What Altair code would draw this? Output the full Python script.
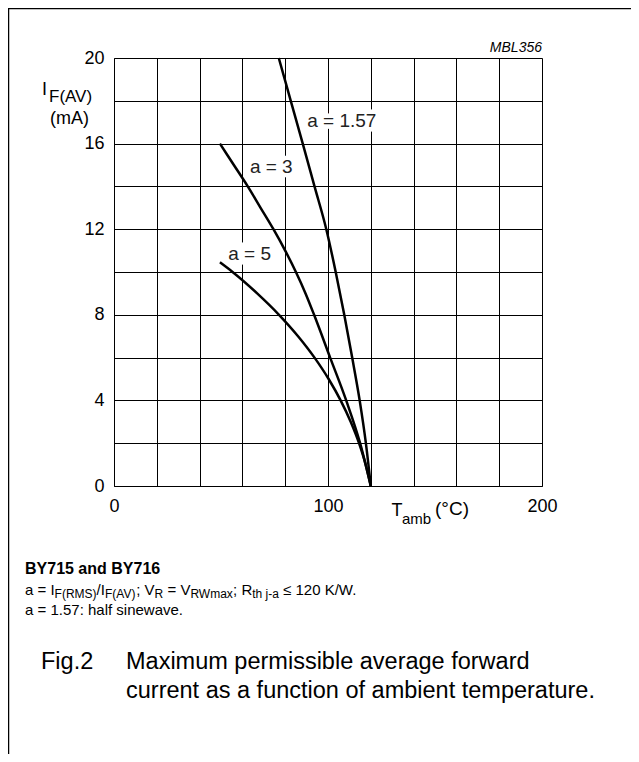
import altair as alt
import pandas as pd

FONT = "Liberation Sans"

# ---- curve data (T_amb in degC, I_F(AV) in mA) ----
T_157 = [77.0, 82.6, 88.2, 93.7, 99.2, 103.6, 107.6, 111.3, 114.8, 117.7, 120.0]
I_157 = [20, 18, 16, 14, 12, 10, 8, 6, 4, 2, 0]
T_3 = [49.5, 56.0, 62.5, 68.5, 74.5, 80.0, 85.0, 89.5, 93.5, 101.0, 108.5, 115.0, 120.0]
I_3 = [16, 15, 14, 13, 12, 11, 10, 9, 8, 6, 4, 2, 0]
T_5 = [49.5, 55.4, 66.9, 77.1, 86.0, 93.7, 100.3, 105.9, 110.6, 114.5, 117.6, 120.0]
I_5 = [10.45, 10, 9, 8, 7, 6, 5, 4, 3, 2, 1, 0]

curve_names = ["a = 1.57", "a = 3", "a = 5"]
label_T = [90.3, 63.5, 53.4]
label_I = [16.78, 14.61, 10.56]

x_grid = list(range(0, 201, 20))
y_grid = list(range(0, 21, 2))

rows = []
for name, ts, iv in zip(curve_names, [T_157, T_3, T_5], [I_157, I_3, I_5]):
    for k, (t, i) in enumerate(zip(ts, iv)):
        rows.append({"curve": name, "T": t, "I": i, "k": k})
df = pd.DataFrame(rows)
lab = pd.DataFrame({"T": label_T, "I": label_I, "text": curve_names,
                    "box": [s.replace(" ", "f") for s in curve_names]})

xs = alt.Scale(domain=[0, 200], nice=False, zero=False)
ys = alt.Scale(domain=[0, 20], nice=False, zero=False)

lines = alt.Chart(df).mark_line(color="black", strokeWidth=2.5, interpolate="monotone").encode(
    x=alt.X("T:Q", scale=xs, axis=alt.Axis(
        values=x_grid, labelExpr="datum.value % 100 == 0 ? datum.label : ''",
        grid=True, gridColor="black", gridWidth=1, ticks=False, tickSize=0,
        domainColor="black", labelFontSize=18, labelFont=FONT, labelColor="black",
        labelPadding=11, labelFlush=False, labelOverlap=False, title=None)),
    y=alt.Y("I:Q", scale=ys, axis=alt.Axis(
        values=y_grid, labelExpr="datum.value % 4 == 0 ? datum.label : ''",
        grid=True, gridColor="black", gridWidth=1, ticks=False, tickSize=0,
        domainColor="black", labelFontSize=18, labelFont=FONT, labelColor="black",
        labelPadding=10, labelFlush=False, labelOverlap=False, title=None)),
    detail="curve:N",
    order="k:Q",
)

halo = alt.Chart(lab).mark_text(align="left", baseline="alphabetic", fontSize=19, font=FONT,
                                stroke="white", strokeWidth=9, color="white").encode(
    x=alt.X("T:Q", scale=xs), y=alt.Y("I:Q", scale=ys), text="box:N")
labels = alt.Chart(lab).mark_text(align="left", baseline="alphabetic", fontSize=19, font=FONT,
                                  color="#222").encode(
    x=alt.X("T:Q", scale=xs), y=alt.Y("I:Q", scale=ys), text="text:N")

# ---- free text helpers (positions relative to the plot area origin) ----
W = {'a': .556, ' ': .278, '=': .584, 'I': .278, 'F': .611, '(': .333, ')': .333, 'R': .722,
     'M': .833, 'S': .667, '/': .278, 'A': .667, 'V': .667, ';': .278, 'W': .944, 'm': .833,
     'x': .5, 't': .278, 'h': .556, 'j': .222, '-': .333, '≤': .549, '1': .556, '2': .556,
     '0': .556, 'K': .667, '.': .278, 'b': .556, '°': .4, 'C': .722, 'T': .611}


def width(s, size):
    return sum(W.get(c, .556) for c in s) * size


def txt(s, x, y, size=18, weight="normal", style="normal", align="left", color="black"):
    return alt.Chart(pd.DataFrame({"t": [s]})).mark_text(
        align=align, baseline="alphabetic", fontSize=size, font=FONT,
        fontWeight=weight, fontStyle=style, color=color).encode(
        x=alt.value(x), y=alt.value(y), text="t:N")


def seq(parts, x0, base, main=15, sub=12, drop=3):
    out = []
    x = x0
    for s, is_sub in parts:
        size = sub if is_sub else main
        lead = len(s) - len(s.lstrip(" "))
        stripped = s.strip(" ")
        out.append(txt(stripped, x + width(" " * lead, size), base + (drop if is_sub else 0), size))
        x += width(s, size)
    return out


texts = []
texts.append(txt("MBL356", 428, -6.5, size=14, style="italic", align="right"))
# y title
texts.append(txt("I", -72, 37, size=18))
texts.append(txt("F(AV)", -65, 44, size=17))
texts.append(txt("(mA)", -64, 66, size=18))
# x title
texts.append(txt("T", 277.5, 458, size=18))
texts.append(txt("amb", 288, 466, size=15))
texts.append(txt("(°C)", 321, 457, size=19))
# notes
texts.append(txt("BY715 and BY716", -89, 516, size=16, weight="bold"))
texts += seq([("a = I", False), ("F(RMS)", True), ("/I", False), ("F(AV)", True),
              ("; V", False), ("R", True), (" = V", False), ("RWmax", True),
              ("; R", False), ("th j-a", True), (" ≤ 120 K/W.", False)], -89, 537)
texts.append(txt("a = 1.57: half sinewave.", -89, 557, size=15))
# caption
texts.append(txt("Fig.2", -73, 611, size=23.5))
texts.append(txt("Maximum permissible average forward", 12, 611, size=23.5))
texts.append(txt("current as a function of ambient temperature.", 12, 640, size=23.5))

# outer frame (top and left)
frame_top = alt.Chart(pd.DataFrame({"d": [0]})).mark_rule(color="black", strokeWidth=1.5).encode(
    x=alt.value(-106), x2=alt.value(517), y=alt.value(-49.5))
frame_left = alt.Chart(pd.DataFrame({"d": [0]})).mark_rule(color="black", strokeWidth=1.5).encode(
    x=alt.value(-105.5), y=alt.value(-50), y2=alt.value(696))

chart = alt.layer(lines, halo, labels, *texts, frame_top, frame_left).properties(
    width=428, height=428,
    padding={"left": 106, "top": 50, "right": 89, "bottom": 268},
    autosize=alt.AutoSizeParams(type="none"),
).configure_view(stroke="black", strokeWidth=1).configure(background="white")

chart.save("out.html", embed_options={"renderer": "svg", "actions": False})
